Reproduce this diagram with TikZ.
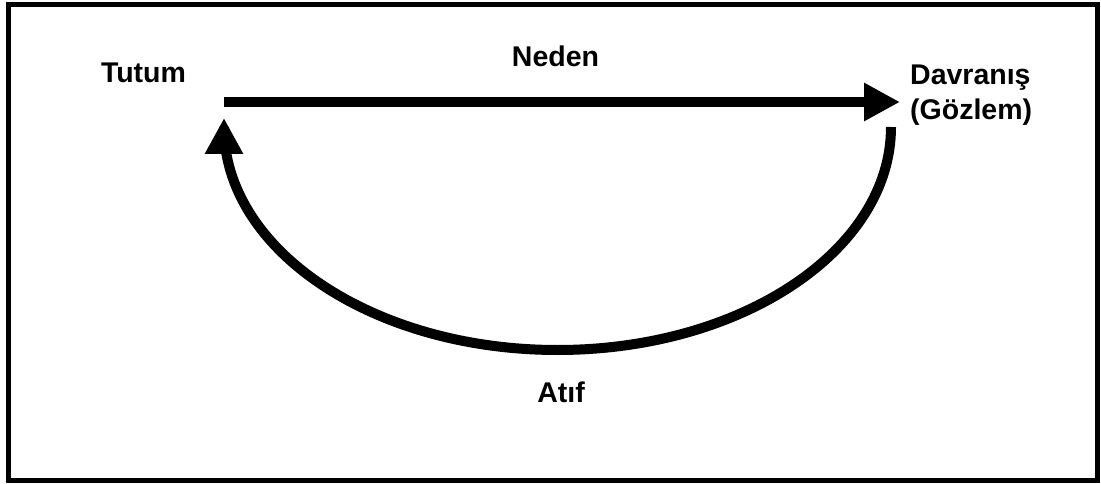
\documentclass[tikz,border=0pt]{standalone}
\usepackage{fontspec}
\setmainfont{Liberation Sans}
\usetikzlibrary{positioning, arrows.meta}

\begin{document}
\begin{tikzpicture}[
  x=1pt, y=1pt,
  labeltext/.style={font=\bfseries\fontsize{28.5}{35}\selectfont, inner sep=0pt},
  bigarrow/.style={line width=10pt, -{Triangle[length=36pt, width=36pt]}},
  frame/.style={draw, line width=5pt},
]

%% ── Frame ────────────────────────────────────────────────────────────────────
\useasboundingbox (0,0) rectangle (1101,483);
\draw[frame] (8,3) rectangle (1097,478.5);

%% ── Labels ───────────────────────────────────────────────────────────────────
\node[labeltext, anchor=base] (tutum) at (143.5, 400) {Tutum};
\node[labeltext, anchor=base] (neden) at (555.5, 416) {Neden};
\node[labeltext, anchor=base west, align=left] (davranis) at (910, 363)
  {Davranış\\(Gözlem)};
\node[labeltext, anchor=base] (atif) at (561, 81) {Atıf};

%% ── Arrow ends ───────────────────────────────────────────────────────────────
\coordinate (nedenStart) at (224, 381);
\coordinate (nedenEnd)   at (900, 381);
\coordinate (atifStart)  at (891, 356);
\coordinate (atifEnd)    at (224, 365);

%% ── Arrows ───────────────────────────────────────────────────────────────────
\draw[bigarrow] (nedenStart) -- (nedenEnd);
\draw[bigarrow] (atifStart)
  arc[start angle=0, end angle=-180, x radius=333.5, y radius=223]
  -- (atifEnd);

\end{tikzpicture}
\end{document}
